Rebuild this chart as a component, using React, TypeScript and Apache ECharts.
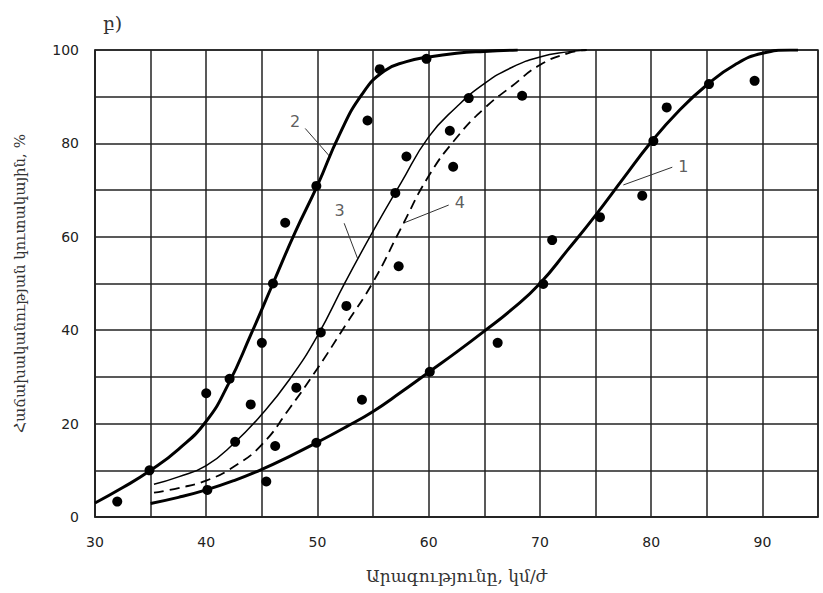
import React, { useEffect, useRef } from 'react';
import * as echarts from 'echarts';

const panelTitle = 'բ)';
const xAxisTitle = 'Արագությունը, կմ/ժ';
const yAxisTitle = 'Հաճախականության կուտակային, %';

// speed (km/h) ticks and cumulative frequency (%) ticks
const xMin = 30;
const xMax = 95;
const xStep = 5;
const yMin = 0;
const yMax = 100;
const yStep = 10;

// fitted curves
const curve1: number[][] = [
  [35, 2.9], [37.5, 4.2], [40, 5.8], [42.5, 7.8], [45, 10.2], [47.5, 13], [50, 16],
  [52.5, 19.2], [55, 22.6], [57.5, 26.7], [60, 31], [62.5, 35.3], [65, 39.8],
  [67.5, 44.5], [70, 50], [72.5, 57.2], [75, 64.6], [77.5, 72.5], [80, 80.3],
  [82.5, 87], [85, 92.5], [87.5, 96.8], [90, 99.3], [92.5, 100], [93.2, 100],
];
const curve2: number[][] = [
  [30, 3], [32.5, 6.3], [35, 10], [37.5, 14.5], [40, 20.5], [42, 28.5], [44, 39], [46, 50],
  [48, 61], [50, 71], [52, 82], [54, 90.5], [56, 95.5], [58, 97.5], [60, 98.5],
  [62.5, 99.3], [65, 99.7], [68, 100],
];
const curve3: number[][] = [
  [35.3, 7], [37.5, 8.6], [40, 11], [42.5, 15.8], [45, 22], [47.5, 29.5], [50, 38.8],
  [52.5, 50.3], [55, 61.2], [57.5, 71.5], [60, 81.4], [62.5, 87.8], [65, 92.8],
  [67.5, 96.3], [70, 98.5], [72.5, 99.6], [74.2, 100],
];
const curve4: number[][] = [
  [35.3, 5.2], [37.5, 6.2], [40, 7.8], [42.5, 10.8], [45, 15.5], [47.5, 23.3], [50, 31.8],
  [52.5, 41], [55, 50.3], [57.5, 61.8], [60, 73], [62.5, 81.2], [65, 87.5],
  [67.5, 92.3], [70, 96.8], [72.5, 99.3], [74.2, 100],
];

// observed points
const observed: number[][] = [
  [32, 3.3], [34.9, 10], [40, 26.5], [42.1, 29.6], [44, 24.1], [45, 37.3], [46, 50],
  [47.1, 63], [49.9, 70.9], [54.5, 84.9], [55.6, 95.9], [59.8, 98.1],
  [40.1, 5.8], [42.6, 16.1], [45.4, 7.6], [46.2, 15.2], [48.1, 27.7], [50.3, 39.5],
  [49.9, 15.9], [52.6, 45.2], [54, 25.1], [57.3, 53.7], [57, 69.4], [58, 77.2],
  [60.1, 31.1], [61.9, 82.7], [62.2, 75], [63.6, 89.7], [68.4, 90.2], [66.2, 37.3],
  [70.3, 49.9], [71.1, 59.3], [75.4, 64.2], [79.2, 68.8], [80.2, 80.5], [81.4, 87.7],
  [85.2, 92.7], [89.3, 93.4],
];

// curve number labels and their leader lines (data coordinates)
const labelNames = ['1', '2', '3', '4'];
const labelAt: number[][] = [[82.9, 75.0], [48.0, 84.6], [52.0, 65.7], [62.8, 67.3]];
const leaderFrom: number[][] = [[81.9, 74.9], [48.9, 83.2], [52.4, 62.9], [61.8, 66.8]];
const leaderTo: number[][] = [[77.5, 71.1], [51.07, 77.3], [53.6, 55.4], [57.7, 62.9]];

const gridColor = '#222';
const sans = 'DejaVu Sans';
const serif = 'DejaVu Serif';

export default function App() {
  const ref = useRef<HTMLDivElement>(null);
  useEffect(() => {
    if (!ref.current) return;
    const chart = echarts.init(ref.current, undefined, { renderer: 'svg' });
    const curveSeries = (data: number[][], width: number, dashed: boolean) => ({
      type: 'line',
      data,
      smooth: 0.5,
      showSymbol: false,
      symbol: 'none',
      z: 3,
      lineStyle: { color: '#000', width, type: dashed ? [10, 6] : 'solid' },
    });
    const leaderSeries = labelNames.map((_, i) => ({
      type: 'line',
      data: [leaderFrom[i], leaderTo[i]],
      showSymbol: false,
      symbol: 'none',
      z: 2,
      lineStyle: { color: '#333', width: 1 },
    }));
    const option: any = {
      animation: false,
      backgroundColor: '#fff',
      title: {
        text: panelTitle,
        left: 98,
        top: 8,
        textStyle: { fontFamily: serif, fontSize: 19, fontWeight: 'normal', color: '#333' },
      },
      grid: {
        left: 95,
        right: 5,
        top: 50,
        bottom: 76,
        show: true,
        borderColor: gridColor,
        borderWidth: 1.5,
        backgroundColor: 'transparent',
      },
      xAxis: {
        type: 'value',
        min: xMin,
        max: xMax,
        interval: xStep,
        axisLine: { show: true, lineStyle: { color: gridColor, width: 1.5 } },
        axisTick: { show: false },
        splitLine: { show: true, lineStyle: { color: gridColor, width: 1.5 } },
        axisLabel: {
          formatter: (v: number) => (v % 10 === 0 ? String(v) : ''),
          margin: 18,
          fontSize: 14,
          color: '#222',
          fontFamily: sans,
        },
        name: xAxisTitle,
        nameLocation: 'middle',
        nameGap: 50,
        nameTextStyle: { fontFamily: serif, fontSize: 17, color: '#333' },
      },
      yAxis: {
        type: 'value',
        min: yMin,
        max: yMax,
        interval: yStep,
        axisLine: { show: true, lineStyle: { color: gridColor, width: 1.5 } },
        axisTick: { show: false },
        splitLine: { show: true, lineStyle: { color: gridColor, width: 1.5 } },
        axisLabel: {
          formatter: (v: number) => (v % 20 === 0 ? String(v) : ''),
          margin: 16,
          fontSize: 14,
          color: '#222',
          fontFamily: sans,
        },
        name: yAxisTitle,
        nameLocation: 'middle',
        nameRotate: 90,
        nameGap: 68,
        nameTextStyle: { fontFamily: serif, fontSize: 15, color: '#333' },
      },
      series: [
        curveSeries(curve1, 3, false),
        curveSeries(curve2, 3, false),
        curveSeries(curve3, 1.5, false),
        curveSeries(curve4, 1.8, true),
        ...leaderSeries,
        {
          type: 'scatter',
          data: observed,
          symbolSize: 10,
          z: 4,
          itemStyle: { color: '#000', opacity: 1 },
        },
        {
          type: 'scatter',
          data: labelNames.map((n, i) => ({ value: labelAt[i], name: n })),
          symbolSize: 0,
          z: 5,
          label: {
            show: true,
            position: 'inside',
            formatter: (p: any) => p.name,
            fontFamily: sans,
            fontSize: 16,
            color: '#333',
          },
        },
      ],
    };
    chart.setOption(option);
    return () => chart.dispose();
  }, []);
  return (
    <div
      ref={ref}
      style={{ position: 'fixed', left: 0, top: 0, width: 823, height: 593, background: '#fff' }}
    />
  );
}
